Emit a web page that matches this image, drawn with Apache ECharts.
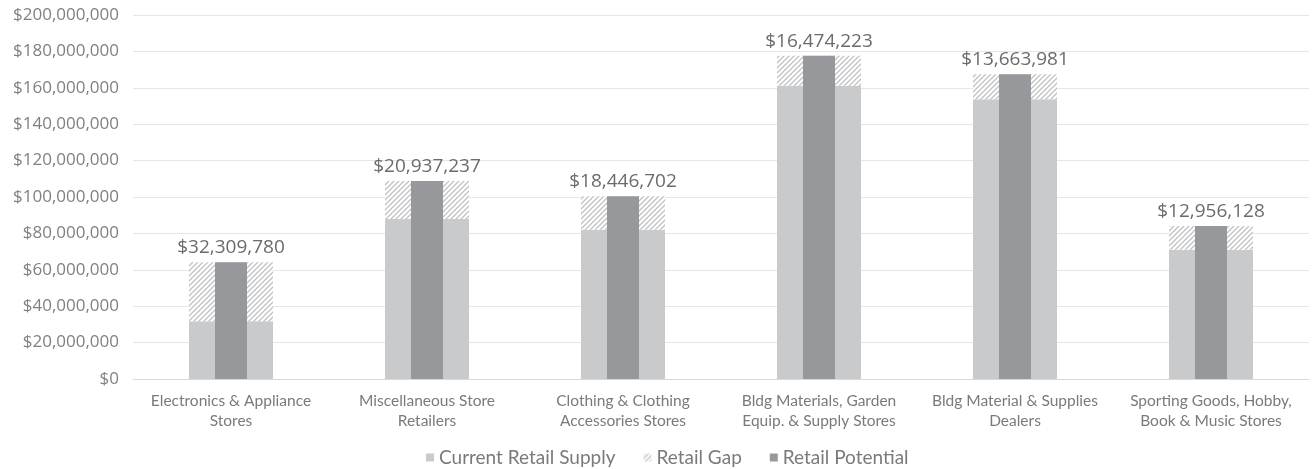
<!DOCTYPE html>
<html><head><meta charset="utf-8">
<script src="https://cdn.jsdelivr.net/npm/echarts@6/dist/echarts.min.js"></script>
<style>html,body{margin:0;padding:0;background:#fff}#c{width:1314px;height:469px}</style>
</head><body><div id="c"></div>
<script>
const categories = [
  'Electronics & Appliance\nStores',
  'Miscellaneous Store\nRetailers',
  'Clothing & Clothing\nAccessories Stores',
  'Bldg Materials, Garden\nEquip. & Supply Stores',
  'Bldg Material & Supplies\nDealers',
  'Sporting Goods, Hobby,\nBook & Music Stores'
];
const retailPotential = [64100000, 108800000, 100400000, 177600000, 167400000, 84000000];
const retailGap = [32309780, 20937237, 18446702, 16474223, 13663981, 12956128];
const currentSupply = retailPotential.map((p, i) => p - retailGap[i]);
const legendNames = ['Current Retail Supply', 'Retail Gap', 'Retail Potential'];

function hatch() {
  const s = 5;
  const cv = document.createElement('canvas');
  cv.width = s; cv.height = s;
  const g = cv.getContext('2d');
  g.fillStyle = '#ffffff'; g.fillRect(0, 0, s, s);
  g.strokeStyle = '#c2c3c5'; g.lineWidth = 1.4;
  g.beginPath();
  g.moveTo(0, s); g.lineTo(s, 0);
  g.moveTo(-s/2, s/2); g.lineTo(s/2, -s/2);
  g.moveTo(s/2, s*1.5); g.lineTo(s*1.5, s/2);
  g.stroke();
  return cv;
}
const fmt = v => '$' + Math.round(v).toLocaleString('en-US');
const TXT = 'Lato, "Open Sans", sans-serif';
const NUM = '"Open Sans", Lato, sans-serif';
const chart = echarts.init(document.getElementById('c'));
chart.setOption({
  animation: false,
  textStyle: { fontFamily: TXT },
  grid: { left: 133, right: 5, top: 15, bottom: 90 },
  legend: {
    top: 443, left: 421, icon: 'rect', itemWidth: 8, itemHeight: 8, itemGap: 28,
    textStyle: { color: '#7a7a7a', fontSize: 19, fontFamily: TXT },
    data: legendNames
  },
  xAxis: [
    { type: 'category', data: categories,
      axisLine: { lineStyle: { color: '#d9d9d9' } }, axisTick: { show: false },
      axisLabel: { color: '#7a7a7a', fontSize: 15.5, lineHeight: 20, margin: 12, interval: 0, fontFamily: TXT } },
    { type: 'category', data: categories, show: false }
  ],
  yAxis: {
    type: 'value', min: 0, max: 200000000, interval: 20000000,
    axisLine: { show: false }, axisTick: { show: false },
    splitLine: { lineStyle: { color: '#e6e6e6' } },
    axisLabel: { color: '#808080', fontSize: 17, margin: 14, fontFamily: NUM, formatter: v => fmt(v) }
  },
  series: [
    { name: legendNames[0], type: 'bar', stack: 'a', xAxisIndex: 0, barWidth: 84,
      data: currentSupply, itemStyle: { color: '#c9cacc' } },
    { name: legendNames[1], type: 'bar', stack: 'a', xAxisIndex: 0, barWidth: 84,
      data: retailGap, itemStyle: { color: { image: hatch(), repeat: 'repeat' } },
      label: { show: true, position: 'top', distance: 5, color: '#6b6b6b', fontSize: 19,
        fontFamily: NUM, formatter: p => fmt(p.value) } },
    { name: legendNames[2], type: 'bar', xAxisIndex: 1, barWidth: 32,
      data: retailPotential, itemStyle: { color: '#97989b' }, z: 3 }
  ]
});
</script></body></html>
